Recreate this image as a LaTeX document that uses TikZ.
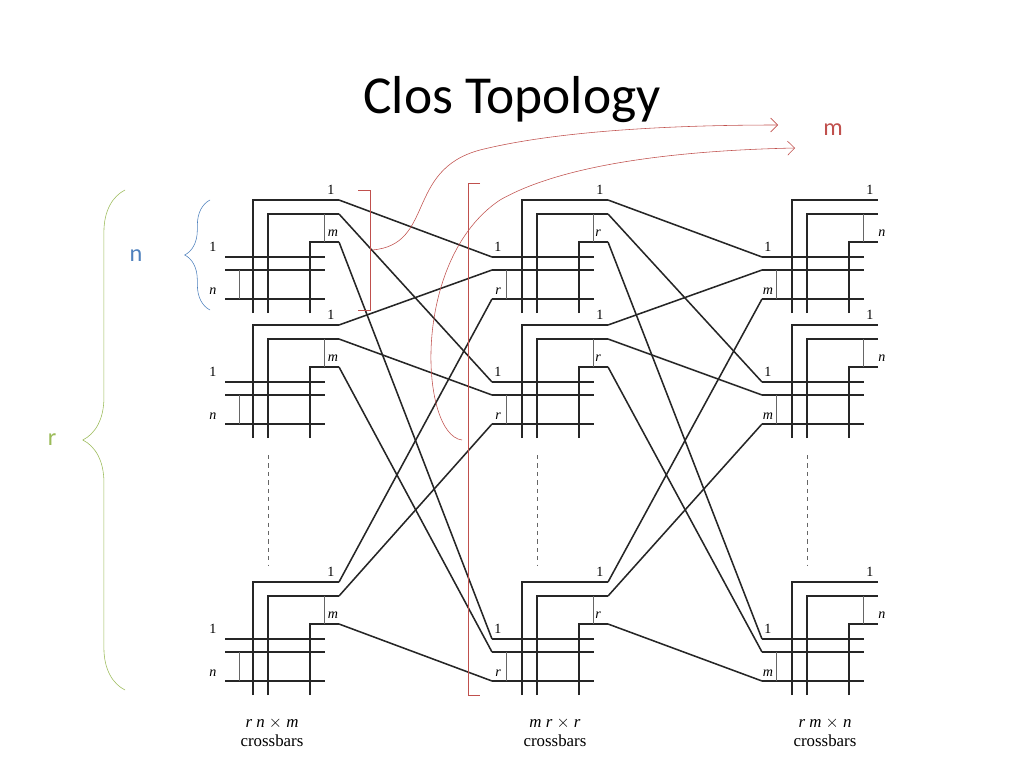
\documentclass[tikz,border=0pt]{standalone}
\usepackage{fontspec}
\setmainfont{Liberation Serif}
\newfontfamily\closfont{Carlito}
\usetikzlibrary{positioning, calc, decorations.pathreplacing, arrows.meta}
\definecolor{closred}{RGB}{192, 80, 77}
\definecolor{closgreen}{RGB}{155, 187, 89}
\definecolor{closblue}{RGB}{79, 129, 189}
\tikzstyle{wire} = [line width=1.1pt, black!85]
\tikzstyle{thin} = [line width=0.5pt, black!60]
\tikzstyle{pin} = [font=\normalsize, inner sep=0pt]
\tikzstyle{caption} = [font=\large, align=center]
\tikzstyle{note} = [font=\closfont\LARGE]

\begin{document}
\begin{tikzpicture}[x=0.025cm, y=-0.025cm]
\useasboundingbox (0,0) rectangle (1024,768);
% Title
\node[font=\closfont\fontsize{38}{38}\selectfont] (title) at (512,100) {Clos Topology};

% Crossbars
\foreach \c/\x/\ia/\ib/\oa/\ob/\ilx/\olx/\inx in
  {L/253/1/n/1/m/-40/80/-28, M/522/1/r/1/r/-24/76/-30, R/792/1/m/1/n/-24/90/-30}{
  \foreach \r/\y in {1/200, 2/325, 3/582}{
    \coordinate (\c\r o1) at (\x+86,\y);
    \coordinate (\c\r o2) at (\x+86,\y+14);
    \coordinate (\c\r o3) at (\x+86,\y+42);
    \coordinate (\c\r i1) at (\x+\inx,\y+57);
    \coordinate (\c\r i2) at (\x+\inx,\y+70);
    \coordinate (\c\r i3) at (\x+\inx,\y+99);
    \draw[wire] (\x,\y+113) |- (\c\r o1);
    \draw[wire] (\x+15,\y+113) |- (\c\r o2);
    \draw[wire] (\x+57,\y+113) |- (\c\r o3);
    \draw[thin] (\x+71,\y+14) -- (\x+71,\y+42);
    \draw[wire] (\c\r i1) -- (\x+72,\y+57);
    \draw[wire] (\c\r i2) -- (\x+72,\y+70);
    \draw[wire] (\c\r i3) -- (\x+72,\y+99);
    \draw[thin] (\x+\inx+14,\y+70) -- (\x+\inx+14,\y+99);
    \node[pin] (\c\r lo1) at (\x+78,\y-10) {\oa};
    \node[pin] (\c\r lo3) at (\x+\olx,\y+33) {\itshape\ob};
    \node[pin] (\c\r li1) at (\x+\ilx,\y+47) {\ia};
    \node[pin] (\c\r li3) at (\x+\ilx,\y+91) {\itshape\ib};
  }
  \draw[thin, dashed] (\x+15,455) -- (\x+15,565);
}

% Links
\foreach \a in {1,2,3}{
  \foreach \b in {1,2,3}{
    \draw[wire] (L\a o\b) -- (M\b i\a);
    \draw[wire] (M\a o\b) -- (R\b i\a);
  }
}

% Captions
\node[caption] (capL) at (272,732) {\itshape r n $\times$ m\\crossbars};
\node[caption] (capM) at (555,732) {\itshape m r $\times$ r\\crossbars};
\node[caption] (capR) at (825,732) {\itshape r m $\times$ n\\crossbars};

% Braces
\draw[closgreen, decorate, decoration={brace, amplitude=30pt, aspect=0.5}] (125,690) -- (125,190);
\node[note, closgreen] (r) at (52,440) {r};
\draw[closblue, decorate, decoration={brace, amplitude=18pt}] (210,310) -- (210,200);
\node[note, closblue] (n) at (136,256) {n};

% Stage bracket
\draw[closred] (358,190) -| (370,310) -- (358,310);
\draw[closred] (480,183) -| (468,695) -- (480,695);
\coordinate (brA) at (372,250);
\coordinate (brB) at (462,440);
\coordinate (tipA) at (778,125);
\coordinate (tipB) at (795,148);
\draw[closred, -{Straight Barb[length=5pt]}] (brA) .. controls (435,245) and (405,170) .. (480,150) .. controls (560,130) and (680,125) .. (tipA);
\draw[closred, -{Straight Barb[length=5pt]}] (brB) .. controls (420,435) and (410,260) .. (500,200) .. controls (570,160) and (700,150) .. (tipB);
\node[note, closred] (m) at (833,130) {m};
\end{tikzpicture}
\end{document}
